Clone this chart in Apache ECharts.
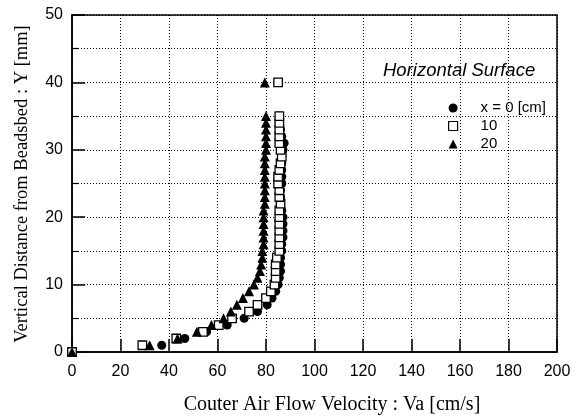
<!DOCTYPE html>
<html>
<head>
<meta charset="utf-8">
<script src="https://cdn.jsdelivr.net/npm/echarts@6/dist/echarts.min.js"></script>
<style>
html,body{margin:0;padding:0;background:#fff;}
#c{width:586px;height:417px;}
</style>
</head>
<body>
<div id="c"></div>
<script>
// Heights Y [mm]
const heightsCircle = [0,1,2,3,4,5,6,7,8,9,10,11,12,13,14,15,16,17,18,19,20,21,22,23,24,25,26,27,28,29,30,31,32,33,34,35];
const heightsSquare = [0,1,2,3,4,5,6,7,8,9,10,11,12,13,14,15,16,17,18,19,20,21,22,23,24,25,26,27,28,29,30,31,32,33,34,35,40];
const heightsTriangle = [0,1,2,3,4,5,6,7,8,9,10,11,12,13,14,15,16,17,18,19,20,21,22,23,24,25,26,27,28,29,30,31,32,33,34,35,40];
// Velocities Va [cm/s]
const velocityX0 = [0,37,46.5,55.5,64,71,76.5,80.5,82.5,84,85,85.5,86,86,86,86.5,86.5,87,87,87,87,86.5,86,86,86,86.5,86.5,86.5,86.5,86.5,87,87.5,86.5,86,85.5,85.5];
const velocityX10 = [0,29,43,54,60.5,66,73,76.5,80,82,83.5,84,84,84,84.5,85.5,85.5,85.5,85.5,85.5,85.5,85.5,86,85.5,85.5,85,85,85.5,86,86.5,86,85.5,85.5,85.5,85.5,85.5,85];
const velocityX20 = [0,32,43.5,51.5,57.5,62.5,65.5,68,70.5,73,75,76.5,77.5,78,78.5,78.5,79,79,79,79,79,79,79.5,79.5,79.5,79.5,79.5,79.5,79.5,79.5,80,80,80,80,80,80,79.5];
const seriesNames = ['x = 0 [cm]', '10', '20'];
const xTicks = [0,20,40,60,80,100,120,140,160,180,200];
const yTicks = [0,10,20,30,40,50];

function pairs(xs, ys){ return xs.map((v,i)=>[v, ys[i]]); }

const dotted = {color:'#000', width:1, type:[1,2]};
const chart = echarts.init(document.getElementById('c'));
chart.setOption({
  animation:false,
  backgroundColor:'#fff',
  grid:{left:72, right:29, top:15, bottom:65, show:true, borderColor:'#000', borderWidth:1.5, backgroundColor:'transparent'},
  xAxis:{
    type:'value', min:xTicks[0], max:xTicks[xTicks.length-1], interval:20,
    axisLine:{show:true, lineStyle:{color:'#000', width:1.5}},
    axisTick:{show:true, inside:true, length:13, lineStyle:{color:'#000', width:1.5}},
    axisLabel:{color:'#000', fontFamily:'Liberation Sans', fontSize:16, margin:12},
    splitLine:{show:true, lineStyle:dotted}
  },
  yAxis:{
    type:'value', min:yTicks[0], max:yTicks[yTicks.length-1], interval:10,
    axisLine:{show:true, lineStyle:{color:'#000', width:1.5}},
    axisTick:{show:true, inside:true, length:13, lineStyle:{color:'#000', width:1.5}},
    minorTick:{show:true, splitNumber:2, length:7, lineStyle:{color:'#000', width:1.2}},
    axisLabel:{color:'#000', fontFamily:'Liberation Sans', fontSize:16, margin:9},
    splitLine:{show:true, lineStyle:dotted},
    minorSplitLine:{show:true, lineStyle:dotted}
  },
  legend:{
    orient:'vertical', left:443, top:95, itemWidth:9, itemHeight:9, itemGap:2,
    textStyle:{color:'#000', fontFamily:'Liberation Sans', fontSize:15, lineHeight:16, padding:[0,0,0,18]},
    data:[
      {name:seriesNames[0], icon:'circle', itemStyle:{color:'#000', borderWidth:0}},
      {name:seriesNames[1], icon:'rect', itemStyle:{color:'#fff', borderColor:'#000', borderWidth:1.2}},
      {name:seriesNames[2], icon:'triangle', itemStyle:{color:'#000', borderWidth:0}}
    ]
  },
  series:[
    {name:seriesNames[0], type:'scatter', symbol:'circle', symbolSize:9,
     itemStyle:{color:'#000', opacity:1}, data:pairs(velocityX0, heightsCircle), z:2},
    {name:seriesNames[1], type:'scatter', symbol:'rect', symbolSize:8.5,
     itemStyle:{color:'#fff', borderColor:'#000', borderWidth:1.3, opacity:1}, data:pairs(velocityX10, heightsSquare), z:3},
    {name:seriesNames[2], type:'scatter', symbol:'triangle', symbolSize:[10,10],
     itemStyle:{color:'#000', opacity:1}, data:pairs(velocityX20, heightsTriangle), z:4}
  ],
  graphic:[
    {type:'text', left:383, top:61, style:{text:'Horizontal Surface', fill:'#000', font:'italic 18.5px "Liberation Sans"'}},
    {type:'text', x:332, y:405, style:{text:'Couter Air Flow Velocity : Va [cm/s]', fill:'#000', font:'20px "Liberation Serif"', textAlign:'center', textVerticalAlign:'middle'}},
    {type:'text', x:22, y:184, rotation:Math.PI/2, style:{text:'Vertical Distance from Beadsbed : Y [mm]', fill:'#000', font:'18.5px "Liberation Serif"', textAlign:'center', textVerticalAlign:'middle'}}
  ]
});
</script>
</body>
</html>
